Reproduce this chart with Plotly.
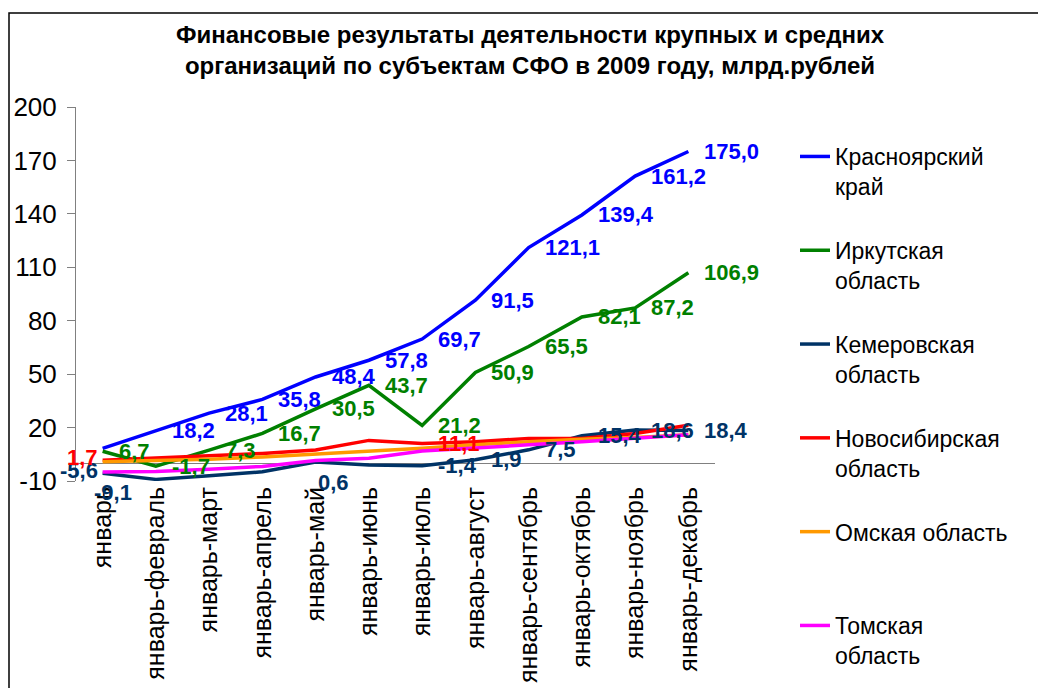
"""Financial results of large and medium organisations by SFD regions, 2009."""
import plotly.graph_objects as go

# ---- data -----------------------------------------------------------------
months = [
    "январь", "январь-февраль", "январь-март", "январь-апрель", "январь-май",
    "январь-июнь", "январь-июль", "январь-август", "январь-сентябрь",
    "январь-октябрь", "январь-ноябрь", "январь-декабрь",
]

krasnoyarsk = [8.3, 18.2, 28.1, 35.8, 48.4, 57.8, 69.7, 91.5, 121.1, 139.4, 161.2, 175.0]
irkutsk = [6.7, -1.7, 7.3, 16.7, 30.5, 43.7, 21.2, 50.9, 65.5, 82.1, 87.2, 106.9]
kemerovo = [-5.6, -9.1, -7.1, -4.8, 0.6, -1.0, -1.4, 1.9, 7.5, 15.4, 18.6, 18.4]
novosibirsk = [1.7, 3.1, 4.2, 5.5, 7.4, 12.8, 11.1, 12.0, 13.9, 13.9, 16.7, 21.3]
omsk = [0.8, 1.3, 2.2, 3.5, 5.0, 6.5, 8.4, 10.3, 12.1, 13.4, 14.4, 15.9]
tomsk = [-5.0, -4.6, -3.4, -1.8, 1.5, 2.8, 6.9, 8.8, 10.3, 12.1, 14.0, 15.9]

# which points carry a value label in the original chart
krasnoyarsk_labels = [False] + [True] * 11
irkutsk_labels = [True] * 12
kemerovo_labels = [True, True, False, False, True, False, True, True, True, True, True, True]
novosibirsk_labels = [True, False, False, False, False, False, True, False, False, False, False, False]
omsk_labels = [False] * 12
tomsk_labels = [False] * 12

y_ticks = [-10, 20, 50, 80, 110, 140, 170, 200]
y_range = [-10, 200]

series = [
    ("Красноярский<br>край", krasnoyarsk, krasnoyarsk_labels, "#0000FF"),
    ("Иркутская<br>область", irkutsk, irkutsk_labels, "#008000"),
    ("Кемеровская<br>область", kemerovo, kemerovo_labels, "#003366"),
    ("Новосибирская<br>область", novosibirsk, novosibirsk_labels, "#FF0000"),
    ("Омская область<br> ", omsk, omsk_labels, "#FF9900"),
    ("Томская<br>область", tomsk, tomsk_labels, "#FF00FF"),
]

# label placements that differ from the default "right of the point"
special_pos = {
    ("kemerovo", 0): "left",
    ("kemerovo", 1): "belowleft",
    ("kemerovo", 4): "below",
    ("novosibirsk", 0): "left",
}
series_keys = ["krasnoyarsk", "irkutsk", "kemerovo", "novosibirsk", "omsk", "tomsk"]

# ---- layout geometry (pixels of the 1038x688 page) -------------------------
W, H = 1038, 688
PLOT_L, PLOT_R, PLOT_T, PLOT_B = 76, 715, 107, 481
FONT = "Liberation Sans, Arial, sans-serif"


def px_x(p):
    return (p - PLOT_L) / (PLOT_R - PLOT_L)


def px_y(p):
    return (PLOT_B - p) / (PLOT_B - PLOT_T)


fig = go.Figure()

for i, (name, values, _, color) in enumerate(series):
    fig.add_trace(go.Scatter(
        x=months, y=values, name=name, mode="lines",
        line=dict(color=color, width=3.5),
        legendgroup=f"g{i}",
        cliponaxis=False,
    ))

# value labels
placements = {
    "right": dict(xanchor="left", yanchor="middle", xshift=14, yshift=0),
    "left": dict(xanchor="right", yanchor="middle", xshift=-3, yshift=3),
    "below": dict(xanchor="left", yanchor="top", xshift=0, yshift=-6),
    "belowleft": dict(xanchor="right", yanchor="middle", xshift=-22, yshift=-13),
}
annotations = []
for key, (name, values, show, color) in zip(series_keys, series):
    for j, (m, v, s) in enumerate(zip(months, values, show)):
        if not s:
            continue
        pos = placements[special_pos.get((key, j), "right")]
        annotations.append(dict(
            x=m, y=v, xref="x", yref="y", text=f"{v:.1f}".replace(".", ","),
            showarrow=False, font=dict(family=FONT, size=22, color=color, weight="bold"),
            **pos,
        ))

zero_pos = (0 - y_range[0]) / (y_range[1] - y_range[0])

fig.update_layout(
    width=W, height=H,
    margin=dict(l=PLOT_L, r=W - PLOT_R, t=PLOT_T, b=H - PLOT_B, autoexpand=False),
    paper_bgcolor="white", plot_bgcolor="white",
    font=dict(family=FONT, color="black"),
    title=dict(
        text="Финансовые результаты деятельности крупных и средних<br>"
             "организаций по субъектам СФО в 2009 году, млрд.рублей",
        x=530 / W, xanchor="center", xref="container",
        y=1 - 43 / H, yanchor="top", yref="container",
        font=dict(family=FONT, size=24, color="black", weight="bold"),
    ),
    xaxis=dict(
        type="category", range=[-0.5, len(months) - 0.5],
        showgrid=False, showline=False, ticks="", zeroline=False,
        tickangle=-90, tickfont=dict(family=FONT, size=25, color="black"),
        automargin=False,
    ),
    xaxis2=dict(
        overlaying="x", anchor="free", position=zero_pos,
        range=[-0.5, len(months) - 0.5],
        tickvals=[k - 0.5 for k in range(len(months) + 1)],
        ticks="outside", ticklen=7, tickcolor="#808080", tickwidth=1,
        showticklabels=False, showgrid=False, showline=False, zeroline=False,
    ),
    yaxis=dict(
        range=y_range, tickvals=y_ticks, ticktext=[str(t) for t in y_ticks],
        showgrid=False, showline=True, linecolor="#808080", linewidth=1,
        ticks="outside", ticklen=8, tickcolor="#808080",
        zeroline=True, zerolinecolor="#808080", zerolinewidth=1,
        tickfont=dict(family=FONT, size=26, color="black"),
        ticklabelstandoff=5, automargin=False,
    ),
    legend=dict(
        x=px_x(795), y=px_y(135), xanchor="left", yanchor="top",
        font=dict(family=FONT, size=23, color="black"),
        valign="top", tracegroupgap=31, bgcolor="rgba(0,0,0,0)",
        maxheight=700,
    ),
    annotations=annotations,
    shapes=[dict(
        type="rect", xref="paper", yref="paper",
        x0=px_x(9), x1=px_x(W + 20), y0=px_y(H + 20), y1=px_y(13),
        line=dict(color="black", width=1.5), fillcolor="rgba(0,0,0,0)",
        layer="below",
    )],
)

fig.write_html(
    "out.html",
    config={"displayModeBar": False},
    post_script="document.body.style.margin = '0px';",
)
